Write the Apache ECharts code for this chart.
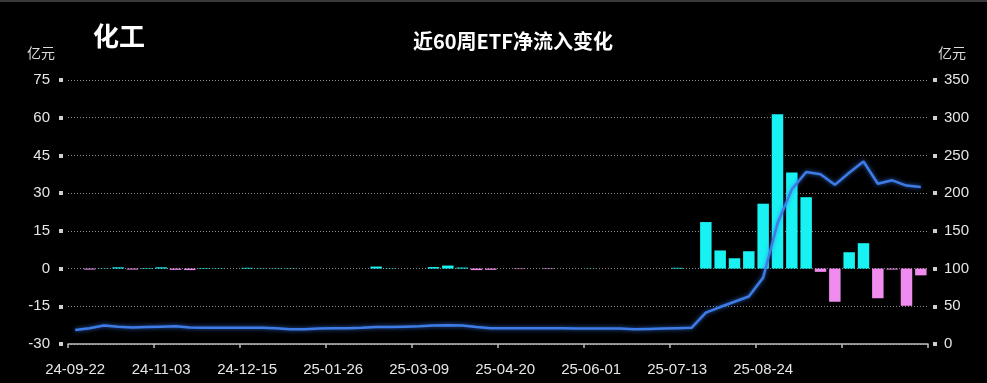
<!DOCTYPE html>
<html>
<head>
<meta charset="utf-8">
<script src="https://cdn.jsdelivr.net/npm/echarts@6/dist/echarts.min.js"></script>
<style>
html,body{margin:0;padding:0;background:#000;}
#c{width:987px;height:383px;}
</style>
</head>
<body>
<div id="c"></div>
<script>
const categories = ['24-09-22','24-09-29','24-10-06','24-10-13','24-10-20','24-10-27','24-11-03','24-11-10','24-11-17','24-11-24',
'24-12-01','24-12-08','24-12-15','24-12-22','24-12-29','25-01-05','25-01-12','25-01-19','25-01-26','25-02-02',
'25-02-09','25-02-16','25-02-23','25-03-02','25-03-09','25-03-16','25-03-23','25-03-30','25-04-06','25-04-13',
'25-04-20','25-04-27','25-05-04','25-05-11','25-05-18','25-05-25','25-06-01','25-06-08','25-06-15','25-06-22',
'25-06-29','25-07-06','25-07-13','25-07-20','25-07-27','25-08-03','25-08-10','25-08-17','25-08-24','25-08-31',
'25-09-07','25-09-14','25-09-21','25-09-28','25-10-05','25-10-12','25-10-19','25-10-26','25-11-02','25-11-09'];

// weekly net inflow (亿元, left axis)
const netInflow = [0,-0.4,0.1,0.5,-0.4,0.2,0.5,-0.5,-0.6,0.2,
0.1,0,0.3,0.1,0.1,0.1,0,0,0,0,
0,0.8,0.1,0,0,0.6,1.2,0.4,-0.6,-0.5,
0,-0.2,0,-0.2,0,0,0.05,0,0,0,
0,0,0.3,0,18.5,7.2,4.1,6.9,25.8,61.4,
38.2,28.4,-1.3,-13.2,6.5,10.1,-11.8,-0.4,-14.8,-2.7];

// ETF scale (亿元, right axis)
const etfScale = [18.5,21,24.5,23,22,22.5,23,23.5,22,21.5,
21.5,21.5,21.5,21.5,21,19.5,19.5,20.5,21,21,
21.5,22.5,22.5,23,23.5,24.5,25,24.5,22.5,21,
21,21,21,21,21,20.5,20.5,20.5,20.5,19.5,
20,20.5,21,21.5,41.5,49,56,63,88,160,
205,228,225,211,227,242,212.5,217,210,208];

const leftTicks = {min:-30, max:75, interval:15};
const rightTicks = {min:0, max:350, interval:50};

const chart = echarts.init(document.getElementById('c'));
const labelColor = '#e6e6e6';
const fontFam = 'Liberation Sans, Arial, sans-serif';
chart.setOption({
  backgroundColor:'#000',
  animation:false,
  graphic:[
    {type:'rect', left:0, top:0, shape:{width:987,height:2}, style:{fill:'#3a3a3a'}},
    {type:'text', left:93, top:23, style:{text:'化工', fill:'#fff', font:'bold 26px "Noto Sans CJK SC"'}},
    {type:'text', left:27, top:46, style:{text:'亿元', fill:'#dcdcdc', font:'14px "Noto Sans CJK SC"'}},
    {type:'text', left:938, top:46, style:{text:'亿元', fill:'#dcdcdc', font:'14px "Noto Sans CJK SC"'}}
  ],
  title:{
    text:'近60周ETF净流入变化', left:508, textAlign:'center', top:26,
    textStyle:{color:'#fff', fontSize:20, fontWeight:'bold', fontFamily:'"Noto Sans CJK SC"'}
  },
  grid:{left:68, right:59, top:80, bottom:39},
  xAxis:{
    type:'category', data:categories, boundaryGap:true,
    axisLine:{show:true, onZero:false, lineStyle:{color:'#bdbdbd', width:1.5}},
    axisTick:{show:true, length:4, interval:5, lineStyle:{color:'#bdbdbd', width:1.5}},
    axisLabel:{
      color:labelColor, fontSize:15, fontFamily:fontFam, margin:18,
      interval:function(i){ return i % 6 === 0 && i <= 48; }
    },
    splitLine:{show:false}
  },
  yAxis:[
    {
      type:'value', position:'left', min:leftTicks.min, max:leftTicks.max, interval:leftTicks.interval,
      offset:5,
      axisLine:{show:false},
      axisTick:{show:true, length:4, lineStyle:{color:'#cfcfcf', width:4}},
      axisLabel:{color:labelColor, fontSize:15, fontFamily:fontFam, margin:13},
      splitLine:{show:true, lineStyle:{color:'#8a8a8a', type:[1,2], width:1}}
    },
    {
      type:'value', position:'right', min:rightTicks.min, max:rightTicks.max, interval:rightTicks.interval,
      offset:5,
      axisLine:{show:false},
      axisTick:{show:true, length:4, lineStyle:{color:'#cfcfcf', width:4}},
      axisLabel:{color:labelColor, fontSize:15, fontFamily:fontFam, margin:11},
      splitLine:{show:false}
    }
  ],
  series:[
    {
      type:'bar', yAxisIndex:0, data:netInflow, barCategoryGap:'20%',
      itemStyle:{color:function(p){ return p.value < 0 ? '#f08cf0' : '#19f2f2'; }}
    },
    {
      type:'line', yAxisIndex:1, data:etfScale, symbol:'none', smooth:false,
      lineStyle:{color:'#3d7ce6', width:2.5, shadowColor:'rgba(60,120,240,0.8)', shadowBlur:4}
    }
  ]
});
</script>
</body>
</html>
